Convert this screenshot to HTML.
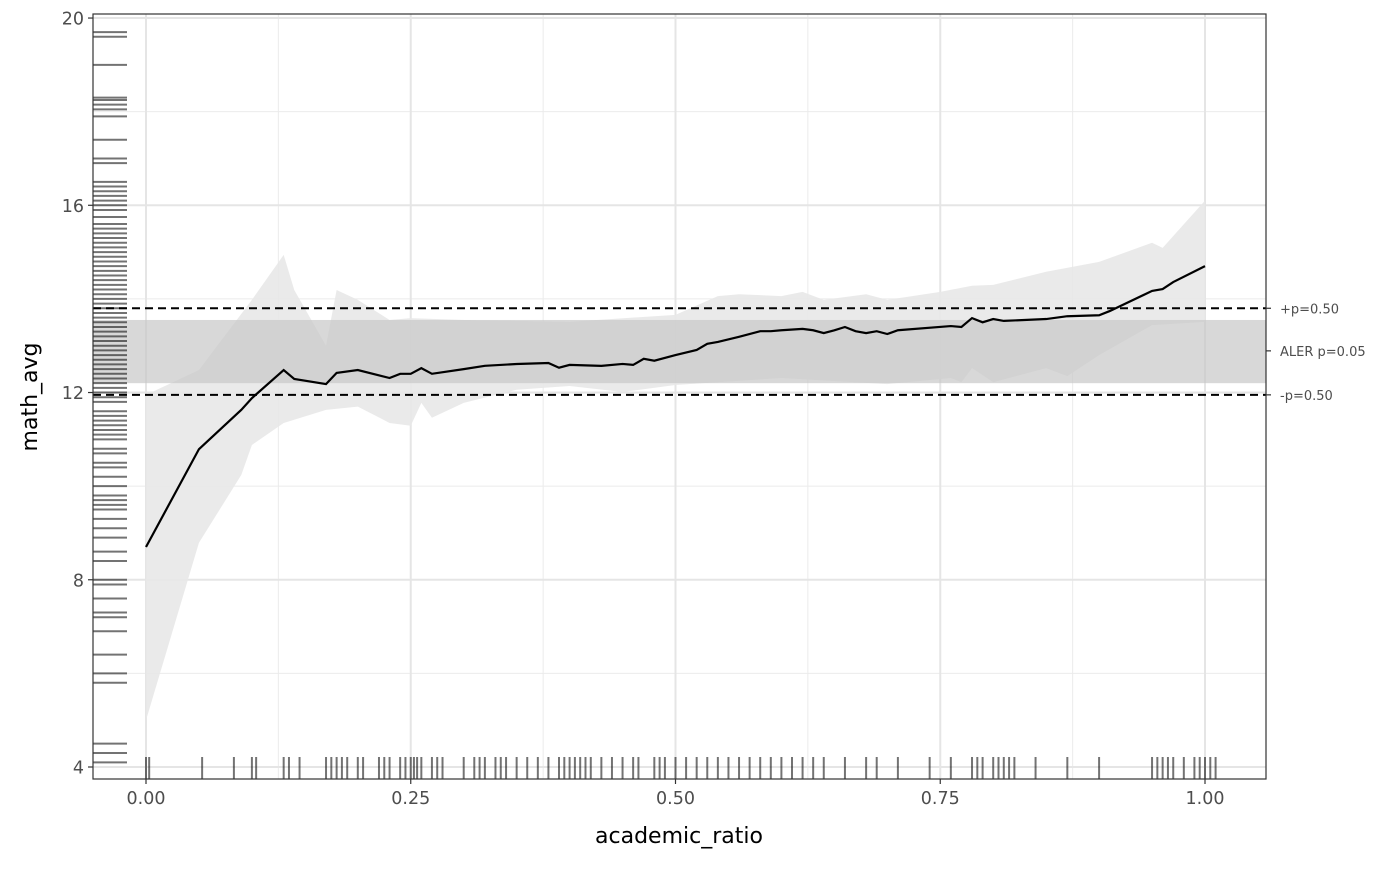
<!DOCTYPE html>
<html><head><meta charset="utf-8"><style>
body{margin:0;background:#fff;font-family:"DejaVu Sans","Liberation Sans",sans-serif}
</style></head><body>
<svg id="c" width="1400" height="865" xmlns="http://www.w3.org/2000/svg" font-family="DejaVu Sans, Liberation Sans, sans-serif"></svg>
<script>
const lineX=[0,0.05,0.09,0.10,0.13,0.14,0.17,0.18,0.20,0.23,0.24,0.25,0.26,0.27,0.30,0.32,0.35,0.38,0.39,0.40,0.43,0.45,0.46,0.47,0.48,0.50,0.52,0.53,0.54,0.56,0.58,0.59,0.60,0.62,0.63,0.64,0.65,0.66,0.67,0.68,0.69,0.70,0.71,0.76,0.77,0.78,0.79,0.80,0.81,0.85,0.87,0.90,0.91,0.95,0.96,0.97,1.00];
const lineY=[8.70,10.79,11.63,11.88,12.48,12.29,12.18,12.42,12.48,12.31,12.40,12.40,12.52,12.40,12.50,12.57,12.61,12.63,12.53,12.59,12.57,12.61,12.59,12.72,12.68,12.80,12.91,13.04,13.08,13.19,13.31,13.31,13.33,13.36,13.33,13.27,13.33,13.40,13.31,13.27,13.31,13.25,13.33,13.42,13.40,13.59,13.50,13.57,13.53,13.57,13.63,13.65,13.74,14.17,14.21,14.36,14.70];
const upX=[0,0.05,0.10,0.13,0.14,0.17,0.18,0.20,0.23,0.25,0.30,0.40,0.50,0.54,0.56,0.60,0.62,0.64,0.68,0.70,0.75,0.78,0.80,0.85,0.90,0.95,0.96,1.00];
const upY=[11.95,12.48,13.98,14.94,14.19,13.00,14.19,13.98,13.55,13.59,13.55,13.51,13.66,14.06,14.10,14.06,14.15,13.98,14.10,13.98,14.15,14.28,14.30,14.58,14.79,15.20,15.09,16.10];
const loX=[0,0.05,0.09,0.10,0.13,0.17,0.20,0.23,0.25,0.26,0.27,0.30,0.35,0.40,0.45,0.50,0.60,0.70,0.76,0.77,0.78,0.80,0.85,0.87,0.90,0.95,1.00];
const loY=[5.0,8.79,10.24,10.88,11.35,11.63,11.70,11.35,11.29,11.78,11.46,11.78,12.06,12.14,12.01,12.16,12.31,12.18,12.31,12.22,12.52,12.22,12.52,12.35,12.80,13.44,13.51];
const rugX=[0,0.003,0.053,0.083,0.10,0.104,0.13,0.135,0.145,0.17,0.175,0.18,0.185,0.19,0.2,0.205,0.22,0.225,0.23,0.24,0.245,0.25,0.253,0.256,0.26,0.27,0.275,0.28,0.3,0.31,0.315,0.32,0.33,0.335,0.34,0.35,0.36,0.37,0.38,0.39,0.395,0.4,0.405,0.41,0.415,0.42,0.43,0.44,0.45,0.46,0.465,0.48,0.485,0.49,0.5,0.51,0.52,0.53,0.54,0.55,0.56,0.57,0.58,0.59,0.6,0.61,0.62,0.63,0.64,0.66,0.68,0.69,0.71,0.74,0.76,0.78,0.785,0.79,0.8,0.805,0.81,0.815,0.82,0.84,0.87,0.9,0.95,0.955,0.96,0.965,0.97,0.98,0.99,0.995,1.0,1.005,1.01];
const rugY=[19.7,19.6,19.0,18.3,18.25,18.15,18.05,17.9,17.4,17.0,16.9,16.5,16.4,16.3,16.2,16.1,16.0,15.9,15.75,15.6,15.5,15.4,15.3,15.2,15.1,15.0,14.9,14.8,14.7,14.6,14.5,14.4,14.3,14.2,14.1,14.0,13.9,13.8,13.7,13.6,13.5,13.4,13.3,13.2,13.1,13.0,12.9,12.8,12.7,12.6,12.5,12.4,12.3,12.2,12.1,12.0,11.9,11.8,11.6,11.5,11.4,11.3,11.2,11.1,11.0,10.8,10.7,10.5,10.4,10.2,10.0,9.8,9.7,9.6,9.5,9.3,9.1,8.9,8.6,8.4,8.0,7.9,7.6,7.3,7.2,6.9,6.4,6.0,5.8,4.5,4.3,4.1];
const xTicks=[0,0.25,0.5,0.75,1.0];
const xTickLabels=["0.00","0.25","0.50","0.75","1.00"];
const yTicks=[4,8,12,16,20];
const yTickLabels=["4","8","12","16","20"];
const plusP=13.8, minusP=11.95, alerLo=12.2, alerHi=13.55, alerMid=12.89;

const L=93,R=1266,T=14,B=779;
const sx=v=>146+v*1059;
const sy=v=>767-(v-4)*46.81;
const svg=document.getElementById('c');
const NS='http://www.w3.org/2000/svg';
function mk(t,a,p){const e=document.createElementNS(NS,t);for(const k in a)e.setAttribute(k,a[k]);(p||svg).appendChild(e);return e;}
[0.125,0.375,0.625,0.875].forEach(v=>{const e=mk('line',{x1:sx(v),x2:sx(v),y1:T,y2:B,stroke:'#ebebeb','stroke-width':1});

});
[6,10,14,18].forEach(v=>{const e=mk('line',{x1:L,x2:R,y1:sy(v),y2:sy(v),stroke:'#ebebeb','stroke-width':1});

});
xTicks.forEach(v=>{const e=mk('line',{x1:sx(v),x2:sx(v),y1:T,y2:B,stroke:'#e5e5e5','stroke-width':2});

});
yTicks.forEach(v=>{const e=mk('line',{x1:L,x2:R,y1:sy(v),y2:sy(v),stroke:'#e5e5e5','stroke-width':2});

});
let d='';upX.forEach((x,i)=>d+=(i?'L':'M')+sx(x)+','+sy(upY[i]));
for(let i=loX.length-1;i>=0;i--)d+='L'+sx(loX[i])+','+sy(loY[i]);
const rib=mk('path',{d:d+'Z',fill:'#e8e8e8','fill-opacity':0.9});


const band=mk('rect',{x:L,y:sy(alerHi),width:R-L,height:sy(alerLo)-sy(alerHi),fill:'#c8c8c8','fill-opacity':0.7});


[[plusP,'plus-p-line'],[minusP,'minus-p-line']].forEach(([v,n])=>{const e=mk('line',{x1:L,x2:R,y1:sy(v),y2:sy(v),stroke:'#000','stroke-width':2,'stroke-dasharray':'8,5'});

});
let ld='';lineX.forEach((x,i)=>ld+=(i?'L':'M')+sx(x)+','+sy(lineY[i]));
const ln=mk('path',{d:ld,fill:'none',stroke:'#000','stroke-width':2.2});


rugX.forEach(v=>{const e=mk('line',{x1:sx(v),x2:sx(v),y1:757,y2:B,stroke:'#000','stroke-opacity':0.55,'stroke-width':2});

});
rugY.forEach(v=>{const e=mk('line',{x1:L,x2:127,y1:sy(v),y2:sy(v),stroke:'#000','stroke-opacity':0.55,'stroke-width':2});

});
const bd=mk('rect',{x:L,y:T,width:R-L,height:B-T,fill:'none',stroke:'#333','stroke-width':1.2});


xTicks.forEach((v,i)=>{mk('line',{x1:sx(v),x2:sx(v),y1:B,y2:B+5,stroke:'#333','stroke-width':1.2});
const t=mk('text',{x:sx(v),y:B+25,'text-anchor':'middle','font-size':17.5,fill:'#4d4d4d'});t.textContent=xTickLabels[i];

});
yTicks.forEach((v,i)=>{mk('line',{x1:L-5,x2:L,y1:sy(v),y2:sy(v),stroke:'#333','stroke-width':1.2});
const t=mk('text',{x:L-9,y:sy(v)+6.5,'text-anchor':'end','font-size':17.5,fill:'#4d4d4d'});t.textContent=yTickLabels[i];

});
[[plusP,'+p=0.50','plus-p-label'],[alerMid,'ALER p=0.05','aler-label'],[minusP,'-p=0.50','minus-p-label']].forEach(([v,s,n])=>{
mk('line',{x1:R,x2:R+5,y1:sy(v),y2:sy(v),stroke:'#333','stroke-width':1.2});
const t=mk('text',{x:R+14,y:sy(v)+5,'font-size':13,fill:'#4d4d4d'});t.textContent=s;

});
const xt=mk('text',{x:679,y:843,'text-anchor':'middle','font-size':22,fill:'#000'});xt.textContent='academic_ratio';


const yt=mk('text',{x:37,y:397,'text-anchor':'middle','font-size':22,fill:'#000',transform:'rotate(-90 37 397)'});yt.textContent='math_avg';


</script>
</body></html>
